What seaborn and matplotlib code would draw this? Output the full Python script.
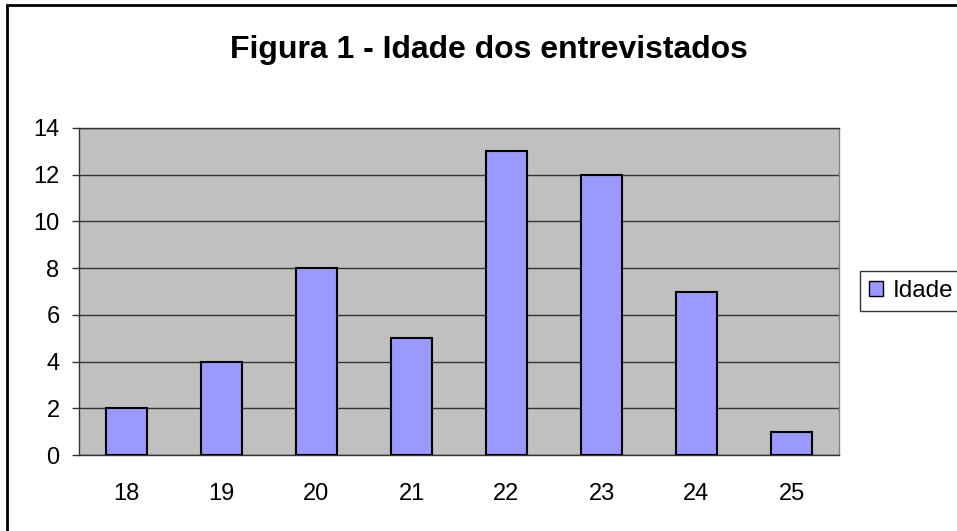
import matplotlib
matplotlib.use("Agg")
import matplotlib.pyplot as plt
import matplotlib.patches as mpatches
import seaborn as sns
import pandas as pd
import numpy as np

# data
idades = ["18", "19", "20", "21", "22", "23", "24", "25"]
contagem = [2, 4, 8, 5, 13, 12, 7, 1]
serie = "Idade"

sns.set_style("white")
plt.rcParams['font.family'] = ['Liberation Sans', 'DejaVu Sans']
plt.rcParams['text.color'] = 'black'
plt.rcParams['xtick.labelcolor'] = 'black'
plt.rcParams['ytick.labelcolor'] = 'black'

df = pd.DataFrame({"idade": idades, "n": contagem})

fig = plt.figure(figsize=(9.57, 5.31), dpi=100)
ax = fig.add_axes([79 / 957, 1 - 455 / 531, 760 / 957, 327 / 531])
ax.set_facecolor("#C0C0C0")

sns.barplot(data=df, x="idade", y="n", color="#9999FF", width=0.43,
            edgecolor="black", linewidth=1.5, saturation=1, ax=ax, zorder=3)

ax.set_ylim(0, 14)
ax.set_yticks(range(0, 15, 2))
ax.set_xlim(-0.5, len(idades) - 0.5)
ax.grid(axis="y", color="#333333", linewidth=1, zorder=0)
ax.set_axisbelow(True)
ax.set_xlabel("")
ax.set_ylabel("")

# ticks between categories, labels centred
ax.set_xticks(np.arange(-0.5, len(idades), 1), minor=True)
ax.tick_params(axis="x", which="major", length=0, labelsize=17, pad=20)
ax.tick_params(axis="x", which="minor", length=5, color="#333333", width=1, direction="out")
ax.tick_params(axis="y", length=5, color="#333333", width=1, labelsize=17, pad=9, left=True)

for s in ["left", "bottom", "top"]:
    ax.spines[s].set_color("#333333")
    ax.spines[s].set_linewidth(1)
ax.spines["right"].set_color("#808080")
ax.spines["right"].set_linewidth(1)

fig.text(489 / 957, 1 - 50 / 531, "Figura 1 - Idade dos entrevistados",
         ha="center", va="center", fontsize=23, fontweight="bold")

handle = mpatches.Patch(facecolor="#9999FF", edgecolor="black", linewidth=1, label=serie)
leg = fig.legend(handles=[handle], loc="center left", bbox_to_anchor=(860 / 957, 1 - 291 / 531),
                 fontsize=17.5, frameon=True, fancybox=False, edgecolor="black",
                 handlelength=0.6, handleheight=0.6, handletextpad=0.4, borderpad=0.35,
                 borderaxespad=0)
leg.get_frame().set_linewidth(1)

# outer chart border (cut off on right and bottom)
border = mpatches.Rectangle((7 / 957, -0.1), 1.2, 1.1 - 5 / 531, transform=fig.transFigure,
                            fill=False, edgecolor="black", linewidth=2, clip_on=False)
fig.patches.append(border)

fig.savefig("out.png", dpi=100)
